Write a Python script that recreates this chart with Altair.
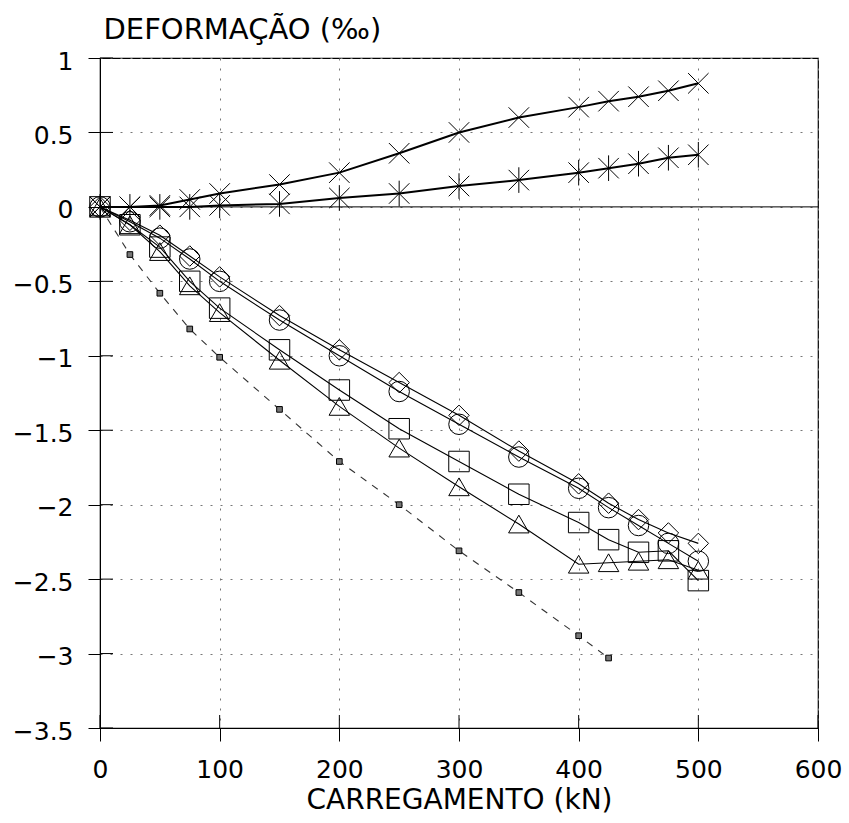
import altair as alt
import pandas as pd

# ---------------- data ----------------
load = [0, 25, 50, 75, 100, 150, 200, 250, 300, 350, 400, 425, 450, 475, 500]

tens_x = [0, 0.0, 0.01, 0.05, 0.09, 0.15, 0.23, 0.36, 0.50, 0.60, 0.67, 0.71, 0.74, 0.78, 0.83]
tens_ast = [0, 0.0, 0.0, 0.0, 0.01, 0.02, 0.06, 0.09, 0.14, 0.18, 0.23, 0.26, 0.29, 0.33, 0.35]
comp_dia = [0, -0.09, -0.19, -0.33, -0.47, -0.73, -0.96, -1.18, -1.40, -1.64, -1.86, -1.99, -2.10, -2.19, -2.26]
comp_cir = [0, -0.10, -0.21, -0.35, -0.50, -0.76, -1.00, -1.24, -1.46, -1.68, -1.89, -2.02, -2.14, -2.26, -2.38]
comp_sq = [0, -0.12, -0.27, -0.50, -0.68, -0.96, -1.23, -1.49, -1.71, -1.93, -2.12, -2.235, -2.32, -2.31, -2.51]
comp_tri = [0, -0.12, -0.30, -0.53, -0.71, -1.03, -1.34, -1.62, -1.88, -2.13, -2.40, -2.39, -2.38, -2.37, -2.44]

load_dash = [0, 25, 50, 75, 100, 150, 200, 250, 300, 350, 400, 425]
comp_dash = [0, -0.32, -0.58, -0.82, -1.01, -1.36, -1.71, -2.00, -2.31, -2.59, -2.88, -3.03]

x_ticks = [0, 100, 200, 300, 400, 500, 600]
y_ticks = [-3.5, -3, -2.5, -2, -1.5, -1, -0.5, 0, 0.5, 1]

# ---------------- tables ----------------
solid_series = [("tx", tens_x), ("ts", tens_ast), ("dia", comp_dia),
                ("cir", comp_cir), ("sq", comp_sq), ("tri", comp_tri)]
rows = []
for name, vals in solid_series:
    for x, y in zip(load, vals):
        rows.append({"load": x, "def": y, "s": name})
df = pd.DataFrame(rows)
df_dash = pd.DataFrame({"load": load_dash, "def": comp_dash, "s": "dash"})
df_zero = pd.DataFrame({"load": [0, 600], "def": [0, 0]})
df_xt = pd.DataFrame({"load": x_ticks})
df_yt = pd.DataFrame({"def": y_ticks})

W, H = 718, 670
FONT = "DejaVu Sans"

x_enc = alt.X(
    "load:Q",
    scale=alt.Scale(domain=[0, 600], nice=False, zero=False),
    axis=alt.Axis(
        values=x_ticks, format="d", title="CARREGAMENTO (kN)",
        labelFont=FONT, labelFontSize=25, labelColor="black", labelPadding=16,
        labelFlush=False,
        tickSize=13, tickColor="black", domainColor="black",
        titleFont=FONT, titleFontSize=28, titleFontWeight="normal", titleColor="black",
        titleBaseline="alphabetic", titleY=80,
        grid=True, gridColor="#777", gridDash=[2, 8], gridWidth=1,
    ),
)
y_enc = alt.Y(
    "def:Q",
    scale=alt.Scale(domain=[-3.5, 1], nice=False, zero=False),
    axis=alt.Axis(
        values=y_ticks, format="~g", title="DEFORMAÇÃO (‰)",
        labelFont=FONT, labelFontSize=25, labelColor="black", labelPadding=15,
        labelOffset=3, labelFlush=False,
        tickSize=12, tickColor="black", domainColor="black",
        titleFont=FONT, titleFontSize=29, titleFontWeight="normal", titleColor="black",
        titleAngle=0, titleAlign="left", titleBaseline="alphabetic",
        titleX=3, titleY=-20,
        grid=True, gridColor="#777", gridDash=[2, 8], gridWidth=1,
    ),
)

X_PATH = "M-1,-1L1,1M-1,1L1,-1"
AST_PATH = "M-1,-1L1,1M-1,1L1,-1M0,-1.25L0,1.25"

shape_scale = alt.Scale(
    domain=["tx", "ts", "dia", "cir", "sq", "tri"],
    range=[X_PATH, AST_PATH, "diamond", "circle", "square", "triangle-up"],
)
size_scale = alt.Scale(
    domain=["tx", "ts", "dia", "cir", "sq", "tri"],
    range=[420, 420, 380, 320, 300, 330],
)

zero_line = alt.Chart(df_zero).mark_line(color="black", strokeWidth=1).encode(x=x_enc, y=y_enc)

x_in_ticks = alt.Chart(df_xt).mark_rule(color="black", strokeWidth=1).encode(
    x=x_enc, y=alt.value(H), y2=alt.value(H - 13)
)
y_in_ticks = alt.Chart(df_yt).mark_rule(color="black", strokeWidth=1).encode(
    y=y_enc, x=alt.value(0), x2=alt.value(13)
)

tension = df[df["s"].isin(["tx", "ts"])]
compress = df[~df["s"].isin(["tx", "ts"])]

lines_t = alt.Chart(tension).mark_line(color="black", strokeWidth=2).encode(
    x=x_enc, y=y_enc, detail="s:N"
)
lines_c = alt.Chart(compress).mark_line(color="black", strokeWidth=1.1).encode(
    x=x_enc, y=y_enc, detail="s:N"
)
line_d = alt.Chart(df_dash).mark_line(color="#333", strokeWidth=1.1, strokeDash=[7, 7]).encode(
    x=x_enc, y=y_enc
)

markers = alt.Chart(df).mark_point(filled=False, color="black", strokeWidth=1, opacity=1).encode(
    x=x_enc, y=y_enc,
    shape=alt.Shape("s:N", scale=shape_scale, legend=None),
    size=alt.Size("s:N", scale=size_scale, legend=None),
)
markers_d = alt.Chart(df_dash[df_dash["load"] > 0]).mark_point(
    shape="square", filled=True, fill="#777", stroke="black", strokeWidth=1, size=32, opacity=1
).encode(x=x_enc, y=y_enc)

chart = alt.layer(
    zero_line, x_in_ticks, y_in_ticks, line_d, lines_c, lines_t, markers_d, markers
).properties(
    width=W, height=H,
    padding={"left": 100, "top": 58, "right": 31, "bottom": 95},
    autosize=alt.AutoSizeParams(type="none"),
    background="white",
).configure_view(stroke="black", strokeWidth=1.2)

chart.save("out.html", embed_options={"renderer": "svg", "actions": False})
